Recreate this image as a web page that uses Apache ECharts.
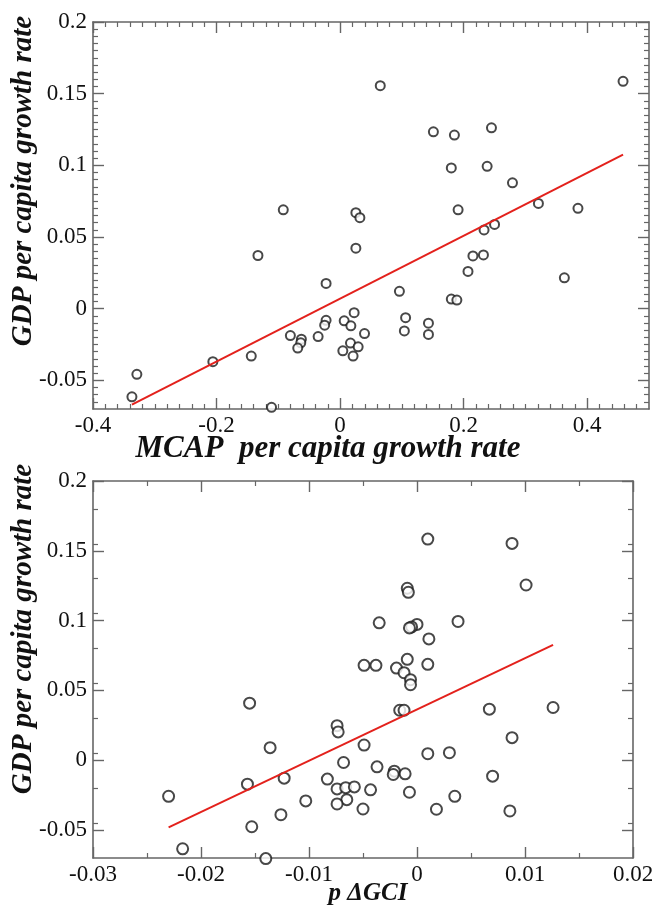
<!DOCTYPE html>
<html>
<head>
<meta charset="utf-8">
<script src="https://cdn.jsdelivr.net/npm/echarts@6/dist/echarts.min.js"></script>
<style>
html,body{margin:0;padding:0;background:#fff;}
#chart{width:654px;height:906px;}
</style>
</head>
<body>
<div id="chart"></div>
<script>
// ---------- Top panel: MCAP per capita growth rate vs GDP per capita growth rate ----------
const mcapX = [0.065, 0.458, 0.151, 0.185, 0.245, 0.180, 0.238, 0.279, 0.321, 0.385,
  0.191, -0.092, 0.0255, 0.032, 0.250, 0.233, 0.215, 0.232, 0.207, 0.363,
  0.096, 0.180, 0.189, 0.106, 0.143, 0.104, 0.143, -0.133, 0.0255, -0.0227,
  0.0227, -0.0227, -0.025, 0.0066, 0.0174, 0.0395, -0.0805, -0.0627, -0.0637, -0.0686,
  -0.0356, 0.0044, 0.0168, 0.0292, 0.021, -0.1438, -0.206, -0.329, -0.337, -0.111];
const gdpTop = [0.1556, 0.1586, 0.1234, 0.1211, 0.1262, 0.0982, 0.0993, 0.0878, 0.0734, 0.070,
  0.069, 0.069, 0.067, 0.0635, 0.0588, 0.0549, 0.0368, 0.0375, 0.026, 0.0215,
  0.0121, 0.0067, 0.006, -0.0063, -0.0101, -0.0155, -0.018, 0.0371, 0.0422, 0.0176,
  -0.0028, -0.0081, -0.0115, -0.0085, -0.012, -0.0174, -0.0188, -0.0213, -0.0238, -0.0275,
  -0.0195, -0.0294, -0.024, -0.0266, -0.0331, -0.0331, -0.037, -0.0458, -0.0615, -0.0688];
const fitTopX = [-0.337, 0.458];
const fitTopY = [-0.0669, 0.1074];

// ---------- Bottom panel: p ΔGCI vs GDP per capita growth rate ----------
const gciX = [0.001, 0.0088, 0.0101, -0.0009, -0.0008, -0.0035, 0.0038, 0.0000, -0.0005, -0.0007,
  0.0011, -0.0049, -0.0038, -0.0009, -0.0019, 0.001, -0.0012, -0.0006, -0.0006, -0.0016,
  -0.0012, 0.0067, 0.0126, 0.0088, -0.0049, 0.001, 0.003, -0.0037, -0.0021, -0.0022,
  -0.0011, 0.007, -0.0043, -0.0007, 0.0035, -0.005, 0.0018, 0.0086, -0.0155, -0.0074,
  -0.0073, -0.0136, -0.0068, -0.0157, -0.0123, -0.0083, -0.0074, -0.0066, -0.0058, -0.0103,
  -0.0065, -0.0074, -0.023, -0.0126, -0.0153, -0.0217, -0.014];
const gdpBottom = [0.1584, 0.1553, 0.1255, 0.1232, 0.1203, 0.0984, 0.0994, 0.0973, 0.0955, 0.0948,
  0.0869, 0.068, 0.068, 0.0723, 0.066, 0.0687, 0.0627, 0.0577, 0.0541, 0.0358,
  0.0358, 0.0366, 0.0378, 0.0162, 0.0109, 0.0047, 0.0054, -0.0047, -0.0078, -0.0102,
  -0.0097, -0.0114, -0.0212, -0.0229, -0.0258, -0.0349, -0.0351, -0.0363, 0.0409, 0.0248,
  0.0203, 0.009, -0.0016, -0.0171, -0.0128, -0.0135, -0.0205, -0.0196, -0.0191, -0.0291,
  -0.0282, -0.0313, -0.0258, -0.039, -0.0476, -0.0634, -0.0704];
const fitBotX = [-0.023, 0.0126];
const fitBotY = [-0.0481, 0.0826];

// ---------- Axis tick labels ----------
const topXTicks = [-0.4, -0.2, 0, 0.2, 0.4];
const topYTicks = [-0.05, 0, 0.05, 0.1, 0.15, 0.2];
const botXTicks = [-0.03, -0.02, -0.01, 0, 0.01, 0.02];
const botYTicks = [-0.05, 0, 0.05, 0.1, 0.15, 0.2];

const yTitle = 'GDP per capita growth rate';
const topXTitle = 'MCAP  per capita growth rate';
const botXTitle = 'p ΔGCI';

// helper: minor tick positions between min and max with a step, skipping majors
function minors(min, max, step, majors) {
  const out = [];
  const n = Math.round((max - min) / step);
  for (let i = 0; i <= n; i++) {
    const v = +(min + i * step).toFixed(6);
    if (v <= min || v >= max) continue;
    if (majors.some(m => Math.abs(m - v) < step / 10)) continue;
    out.push(v);
  }
  return out;
}

const FRAME = '#666';
const LBL = {fontFamily: 'Liberation Serif', fontSize: 23, color: '#111'};

function axesFor(dim, grid, min, max, majors, minorVals, labelMargin) {
  const sides = dim === 'x' ? ['bottom', 'top'] : ['left', 'right'];
  const list = [];
  sides.forEach((pos, k) => {
    list.push({
      type: 'value', gridIndex: grid, position: pos, min: min, max: max,
      axisLine: {show: true, onZero: false, lineStyle: {color: FRAME, width: 1.6}},
      axisTick: {show: true, inside: true, length: 11, customValues: majors, lineStyle: {color: FRAME, width: 1.4}},
      axisLabel: {show: k === 0, customValues: majors, margin: labelMargin, ...LBL},
      splitLine: {show: false}
    });
    list.push({
      type: 'value', gridIndex: grid, position: pos, min: min, max: max,
      axisLine: {show: false, onZero: false},
      axisTick: {show: true, inside: true, length: 5, customValues: minorVals, lineStyle: {color: FRAME, width: 1.2}},
      axisLabel: {show: false},
      splitLine: {show: false}
    });
  });
  return list;
}

const xAxes = [
  ...axesFor('x', 0, -0.4, 0.5, topXTicks, minors(-0.4, 0.5, 0.02, topXTicks), 5),
  ...axesFor('x', 1, -0.03, 0.02, botXTicks, minors(-0.03, 0.02, 0.005, botXTicks), 5)
];
const yAxes = [
  ...axesFor('y', 0, -0.07, 0.2, topYTicks, minors(-0.07, 0.2, 0.005, topYTicks), 6),
  ...axesFor('y', 1, -0.07, 0.2, botYTicks, minors(-0.07, 0.2, 0.025, botYTicks), 6)
];

const pairs = (xs, ys) => xs.map((x, i) => [x, ys[i]]);
const TITLE_BASE = {fontFamily: 'Liberation Serif', fontWeight: 'bold', fontStyle: 'italic', fill: '#111'};

function titleText(text, x, y, size, rot) {
  return {
    type: 'text', x: x, y: y, rotation: rot || 0,
    style: {text: text, ...TITLE_BASE, fontSize: size, align: 'center', verticalAlign: 'middle', textAlign: 'center', textVerticalAlign: 'middle'}
  };
}

const option = {
  animation: false,
  backgroundColor: '#fff',
  grid: [
    {left: 93, top: 22, width: 556, height: 387, outerBoundsMode: 'none'},
    {left: 93, top: 481, width: 540, height: 377, outerBoundsMode: 'none'}
  ],
  xAxis: xAxes,
  yAxis: yAxes,
  series: [
    {type: 'scatter', xAxisIndex: 0, yAxisIndex: 0, symbol: 'emptyCircle', symbolSize: 9, clip: false,
     itemStyle: {color: '#1a1a1a', borderWidth: 1.2},
     data: pairs(mcapX, gdpTop), z: 3},
    {type: 'line', xAxisIndex: 0, yAxisIndex: 0, symbol: 'none',
     lineStyle: {color: '#e3211c', width: 2}, data: pairs(fitTopX, fitTopY), z: 4},
    {type: 'scatter', xAxisIndex: 4, yAxisIndex: 4, symbol: 'emptyCircle', symbolSize: 11, clip: false,
     itemStyle: {color: '#1a1a1a', borderWidth: 1.2},
     data: pairs(gciX, gdpBottom), z: 3},
    {type: 'line', xAxisIndex: 4, yAxisIndex: 4, symbol: 'none',
     lineStyle: {color: '#e3211c', width: 2}, data: pairs(fitBotX, fitBotY), z: 4}
  ],
  graphic: [
    titleText(yTitle, 24, 181, 29, Math.PI / 2),
    titleText(yTitle, 24, 629, 29, Math.PI / 2),
    titleText(topXTitle, 328, 449, 31),
    titleText(botXTitle, 368, 894, 25)
  ]
};

const chart = echarts.init(document.getElementById('chart'), null, {renderer: 'canvas'});
chart.setOption(option);
</script>
</body>
</html>
